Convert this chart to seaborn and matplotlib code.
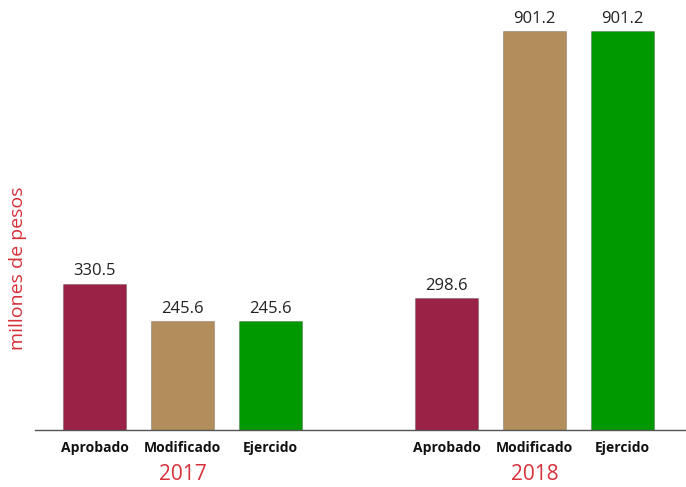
import pandas as pd
import matplotlib.pyplot as plt
import matplotlib.transforms as mtrans
import seaborn as sns

# data
years = ['2017', '2018']
stages = ['Aprobado', 'Modificado', 'Ejercido']
values_2017 = [330.5, 245.6, 245.6]
values_2018 = [298.6, 901.2, 901.2]
colors = ['#9B2247', '#B38E5D', '#009900']
red = '#D6303A'

rows = []
for year, vals in zip(years, [values_2017, values_2018]):
    for stage, v in zip(stages, vals):
        rows.append({'key': stage + ' ' + year, 'stage': stage, 'year': year, 'value': v})
df = pd.DataFrame(rows)

# empty slot between the two years
order = list(df['key'][:3]) + ['gap'] + list(df['key'][3:])
palette = {k: colors[i % 3] for i, k in enumerate(df['key'])}

sns.set_theme(style='white')
plt.rcParams['font.family'] = ['Open Sans', 'DejaVu Sans']

fig = plt.figure(figsize=(6.86, 4.87), dpi=100)
ax = fig.add_axes([35 / 686, 57 / 487, 650 / 686, 430 / 487])

sns.barplot(data=df, x='key', y='value', hue='key', order=order, hue_order=list(df['key']),
            palette=palette, width=0.716, legend=False, dodge=False, ax=ax,
            linewidth=0, saturation=1)

# faint shadow on the bars
for p in ax.patches:
    p.set_edgecolor('#00000030')
    p.set_linewidth(0.8)

for c in ax.containers:
    ax.bar_label(c, fmt='%.1f', padding=3, fontsize=12, color='#222222')

ax.set_xlim(-0.676, 6.71)
ax.set_ylim(0, 971)
ax.set_yticks([])
ax.set_xticks([0, 1, 2, 4, 5, 6])
ax.set_xticklabels(stages + stages, fontsize=10, fontweight='bold', color='#111111')
ax.tick_params(axis='x', length=0, pad=8)
ax.set_xlabel('')
ax.set_ylabel('')
for s in ['top', 'right', 'left']:
    ax.spines[s].set_visible(False)
ax.spines['bottom'].set_color('#555555')
ax.spines['bottom'].set_linewidth(1)

trans = mtrans.blended_transform_factory(ax.transData, fig.transFigure)
for xpos, year in zip([1, 5], years):
    ax.text(xpos, 13 / 487, year, transform=trans, ha='center', va='center',
            fontsize=15, color=red)

fig.text(18 / 686, 1 - 268 / 487, 'millones de pesos', rotation=90, ha='center', va='center',
         fontsize=14, color=red)

plt.savefig('out.png', dpi=100)
